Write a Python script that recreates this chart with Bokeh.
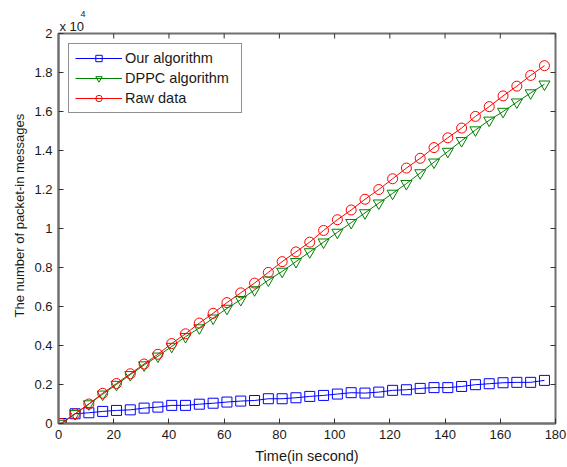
import math
from bokeh.plotting import figure
from bokeh.models import FixedTicker, Legend, LegendItem, Range1d, Title
from bokeh.embed import file_html
from bokeh.resources import INLINE

# ---- data (packet-in message counts) ----
time_s = [1, 6, 11, 16, 21, 26, 31, 36, 41, 46, 51, 56, 61, 66, 71, 76, 81, 86,
          91, 96, 101, 106, 111, 116, 121, 126, 131, 136, 141, 146, 151, 156, 161, 166, 171, 176]

our_algorithm = [0, 500, 550, 620, 670, 700, 790, 840, 930, 930, 990, 1040, 1100, 1150, 1180, 1270, 1270, 1320,
                 1390, 1440, 1510, 1580, 1560, 1610, 1700, 1730, 1800, 1840, 1840, 1900, 1990, 2040, 2090, 2110, 2110, 2210]

dppc_algorithm = [0, 500, 1000, 1500, 2000, 2500, 3000, 3450, 3950, 4450, 4900, 5400, 5900, 6350, 6850, 7350, 7800, 8300,
                  8800, 9300, 9800, 10300, 10800, 11300, 11800, 12300, 12850, 13400, 13950, 14500, 15050, 15550, 16000, 16480, 16950, 17400]

raw_data = [0, 500, 1000, 1550, 2050, 2550, 3050, 3550, 4100, 4600, 5150, 5650, 6200, 6700, 7200, 7750, 8300, 8800,
            9300, 9900, 10450, 10950, 11500, 12000, 12550, 13100, 13600, 14150, 14650, 15150, 15750, 16250, 16800, 17300, 17850, 18350]

x_ticks = [0, 20, 40, 60, 80, 100, 120, 140, 160, 180]
y_ticks = [0, 2000, 4000, 6000, 8000, 10000, 12000, 14000, 16000, 18000, 20000]
y_tick_labels = ["0", "0.2", "0.4", "0.6", "0.8", "1", "1.2", "1.4", "1.6", "1.8", "2"]

series_names = ["Our algorithm", "DPPC algorithm", "Raw data"]
x_label = "Time(in second)"
y_label = "The number of packet-in messages"
exponent_base = "x 10"
exponent_power = "4"

FONT = "Liberation Sans"
AXIS_COLOR = "#707070"
TICK_COLOR = "#333333"
TEXT_COLOR = "#1a1a1a"

p = figure(width=567, height=467, output_backend="svg", toolbar_location=None,
           x_range=Range1d(x_ticks[0], x_ticks[-1]), y_range=Range1d(y_ticks[0], y_ticks[-1]),
           min_border_left=58, min_border_right=12, min_border_top=33, min_border_bottom=44)
p.background_fill_color = "white"
p.border_fill_color = "white"
p.outline_line_color = AXIS_COLOR
p.outline_line_width = 2
p.xgrid.visible = False
p.ygrid.visible = False


def style_axis(ax, ticks):
    ax.ticker = FixedTicker(ticks=ticks)
    ax.axis_line_color = AXIS_COLOR
    ax.axis_line_width = 2
    ax.major_tick_line_color = TICK_COLOR
    ax.major_tick_in = 5
    ax.major_tick_out = 0
    ax.minor_tick_line_color = None
    ax.major_label_text_font = FONT
    ax.major_label_text_font_size = "13px"
    ax.major_label_text_color = TEXT_COLOR
    ax.major_label_standoff = 6
    ax.axis_label_text_font = FONT
    ax.axis_label_text_font_style = "normal"
    ax.axis_label_text_color = TEXT_COLOR


style_axis(p.xaxis[0], x_ticks)
style_axis(p.yaxis[0], y_ticks)
p.yaxis[0].major_label_overrides = {t: s for t, s in zip(y_ticks, y_tick_labels)}
p.xaxis[0].axis_label = x_label
p.xaxis[0].axis_label_text_font_size = "14.5px"
p.xaxis[0].axis_label_standoff = 6

# y label as a side title so it can sit a little above the frame's centre, as in the reference
p.add_layout(Title(text=y_label, align="left", offset=106, standoff=10,
                   text_font=FONT, text_font_size="13px", text_font_style="normal",
                   text_color=TEXT_COLOR), "left")

# inward ticks on the top and right edges of the box (half of each dash is clipped by the frame)
p.scatter(x_ticks, [y_ticks[-1]] * len(x_ticks), marker="dash", angle=math.pi / 2, size=10,
          line_color=TICK_COLOR, line_width=1)
p.scatter([x_ticks[-1]] * len(y_ticks), y_ticks, marker="dash", size=10,
          line_color=TICK_COLOR, line_width=1)

# ---- series ----
colors = ["#0000ff", "#008000", "#ff0000"]
markers = ["square", "inverted_triangle", "circle"]
sizes = [10, 11, 10]
items = []
for name, ys, c, m, s in zip(series_names, [our_algorithm, dppc_algorithm, raw_data], colors, markers, sizes):
    l = p.line(time_s, ys, line_color=c, line_width=1)
    sc = p.scatter(time_s, ys, marker=m, size=s, line_color=c, fill_color=None, line_width=1)
    items.append(LegendItem(label=name, renderers=[l, sc]))

legend = Legend(items=items, location="top_left")
legend.margin = 10
legend.padding = 6
legend.glyph_width = 47
legend.glyph_height = 16
legend.label_height = 16
legend.label_width = 110
legend.spacing = 4
legend.label_standoff = 3
legend.label_text_font = FONT
legend.label_text_font_size = "14.5px"
legend.label_text_color = TEXT_COLOR
legend.border_line_color = "#222222"
legend.border_line_width = 1
legend.background_fill_color = "white"
legend.background_fill_alpha = 1
p.add_layout(legend, "center")

# ---- exponent label (x 10^4) above the top-left corner ----
p.title.text = exponent_power
p.title.align = "left"
p.title.offset = 22
p.title.standoff = 0
p.title.text_font = FONT
p.title.text_font_size = "9px"
p.title.text_font_style = "normal"
p.title.text_color = TEXT_COLOR
p.add_layout(Title(text=exponent_base, align="left", offset=1, standoff=0,
                   text_font=FONT, text_font_size="13px", text_font_style="normal",
                   text_color=TEXT_COLOR), "above")

open("out.html", "w").write(file_html(p, INLINE))
